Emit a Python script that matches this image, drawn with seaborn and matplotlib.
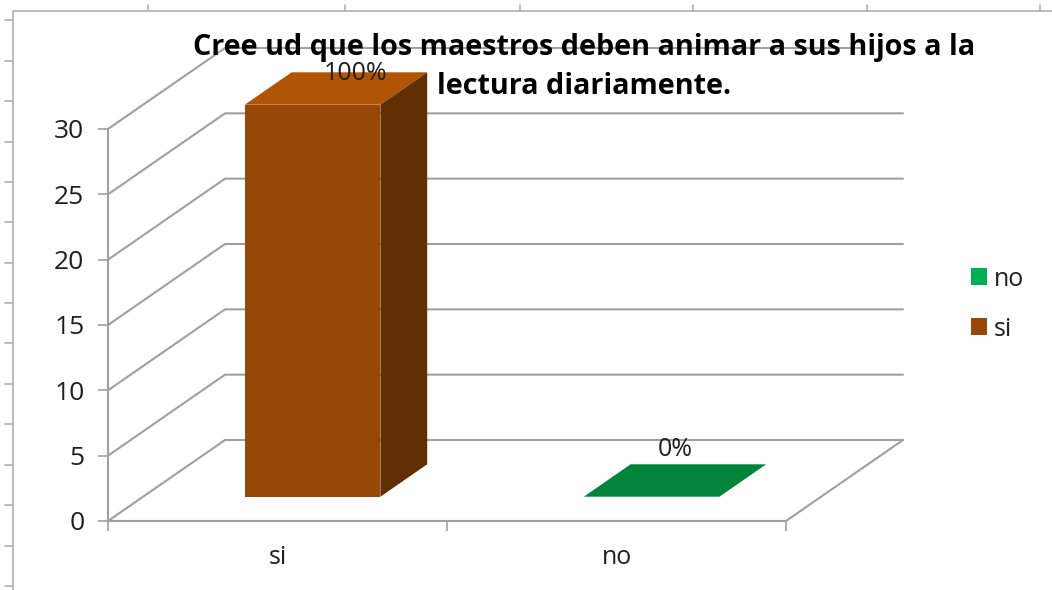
import matplotlib
matplotlib.use("Agg")
import matplotlib.pyplot as plt
import seaborn as sns
import pandas as pd
from matplotlib.lines import Line2D
from matplotlib.patches import Polygon
from matplotlib.transforms import Affine2D, IdentityTransform

categories = ["si", "no"]
values = [30, 0]
pct_labels = ["100%", "0%"]
y_ticks = [0, 5, 10, 15, 20, 25, 30]
title_lines = ["Cree ud que los maestros deben animar a sus hijos a la", "lectura diariamente."]

front_colors = {"si": "#984806", "no": "#00b050"}
top_colors = {"si": "#b05506", "no": "#00843c"}
side_colors = {"si": "#622f04", "no": "#00843c"}
GRID = "#a0a0a0"
TEXT = "#1f1f1f"

W, H = 1052, 590
DEPTH_X, DEPTH_Y = 117, 81   # full floor depth in pixels
BAR_START, BAR_DEPTH = 0.30, 0.40

sns.set_theme(style="white")
plt.rcParams["font.family"] = ["Open Sans", "DejaVu Sans"]

fig = plt.figure(figsize=(W / 100, H / 100), dpi=100, facecolor="white")
ax = fig.add_axes([108 / W, (H - 521) / H, 678 / W, 392 / H])


def depth(f):
    # front plane pushed back into the fake 3d box
    return ax.transData + Affine2D().translate(DEPTH_X * f, DEPTH_Y * f)


df = pd.DataFrame({"respuesta": categories, "n": values})
sns.barplot(data=df, x="respuesta", y="n", hue="respuesta", palette=front_colors,
            width=0.4, dodge=False, legend=True, ax=ax, zorder=5, saturation=1,
            linewidth=0, edgecolor="none")
ax.set_xlim(-0.5, 1.5)
ax.set_ylim(0, 30)
ax.set_xlabel("")
ax.set_ylabel("")
ax.patch.set_alpha(0)

# back wall and side wall lines, behind the axes
for v in y_ticks:
    end = 1.5 if v < 30 else 1.373
    a = ax.transData.transform((-0.5, v))
    back = depth(1).transform([(-0.5, v), (end, v)])
    fig.add_artist(Line2D([a[0], back[0][0], back[1][0]], [a[1], back[0][1], back[1][1]],
                          color=GRID, lw=1.5, transform=IdentityTransform(), zorder=-1))
a = ax.transData.transform((1.5, 0))
b = depth(1).transform((1.5, 0))
fig.add_artist(Line2D([a[0], b[0]], [a[1], b[1]], color=GRID, lw=1.5,
                      transform=IdentityTransform(), zorder=-1))

# bars: front face from seaborn, top and side faces built from it
bars = [p for p in ax.patches if p.get_width() > 0]
for cat, bar in zip(categories, bars):
    bar.set_transform(depth(BAR_START))
    bar.set_clip_on(False)
    x0, x1 = bar.get_x(), bar.get_x() + bar.get_width()
    h = bar.get_height()
    front = depth(BAR_START)
    rear = depth(BAR_START + BAR_DEPTH)
    top = [front.transform((x0, h)), front.transform((x1, h)), rear.transform((x1, h)), rear.transform((x0, h))]
    side = [front.transform((x1, 0)), rear.transform((x1, 0)), rear.transform((x1, h)), front.transform((x1, h))]
    for pts, col in ((top, top_colors[cat]), (side, side_colors[cat])):
        ax.add_patch(Polygon(pts, closed=True, facecolor=col, edgecolor="none",
                             transform=IdentityTransform(), clip_on=False, zorder=5))

# labels on the bars
label_offsets = [(78.5, 55), (58.5, 72)]
for i, (txt, off) in enumerate(zip(pct_labels, label_offsets)):
    ax.annotate(txt, xy=(i, values[i]), xytext=off, textcoords="offset pixels",
                ha="center", va="center", fontsize=18, color=TEXT, zorder=8,
                annotation_clip=False)

# axes
for s in ["top", "right"]:
    ax.spines[s].set_visible(False)
for s in ["left", "bottom"]:
    ax.spines[s].set_color(GRID)
    ax.spines[s].set_linewidth(1.5)
ax.set_yticks(y_ticks)
ax.tick_params(axis="y", length=7, width=1.2, color=GRID, labelsize=19, labelcolor=TEXT, pad=10, left=True)
ax.set_xticks([-0.5, 0.5, 1.5], ["", "", ""])
ax.set_xticks([0, 1], categories, minor=True)
ax.tick_params(axis="x", which="major", length=7, width=1.2, color=GRID, bottom=True)
ax.tick_params(axis="x", which="minor", length=0, labelsize=18, labelcolor=TEXT, pad=17)

# legend, reversed like the original
handles, labels = ax.get_legend_handles_labels()
ax.legend(handles[::-1], labels[::-1], loc="center left", bbox_to_anchor=(971 / W, (H - 304) / H),
          bbox_transform=fig.transFigure, frameon=False, fontsize=18, handlelength=0.64,
          handleheight=0.64, handletextpad=0.28, labelspacing=1.0, labelcolor=TEXT, borderpad=0, borderaxespad=0)

for line, y in zip(title_lines, [48, 86]):
    fig.text(584 / W, (H - y) / H, line, ha="center", va="center", fontsize=20.7,
             fontweight="bold", color="black", zorder=10)


# chart border and sheet ruler marks
def px_line(x, y):
    fig.add_artist(Line2D(x, [H - v for v in y], color="#b0b0b0", lw=1.2,
                          transform=IdentityTransform(), zorder=-2))


px_line([13, 13, W], [H, 11, 11])
for y in [20, 61, 101, 142, 182, 222, 263, 303, 343, 384, 424, 465, 505, 546, 586]:
    px_line([5, 13], [y, y])
for x in [148, 345, 520, 693, 867, 1040]:
    px_line([x, x], [5, 11])

fig.savefig("out.png", dpi=100)
